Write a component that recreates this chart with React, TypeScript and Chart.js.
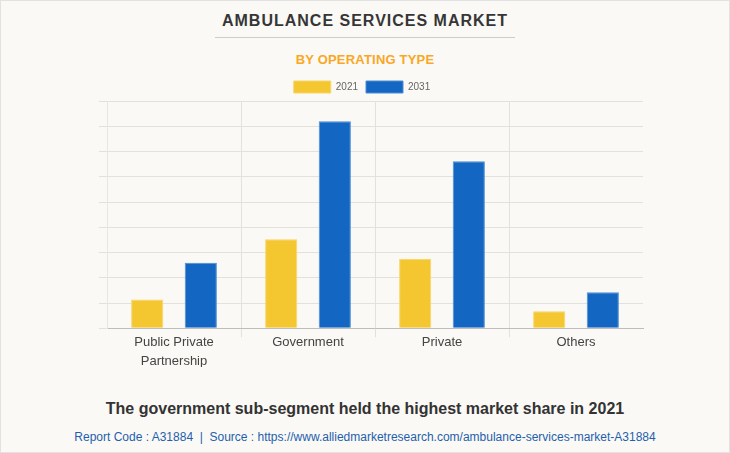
import React, { useEffect, useRef } from "react";
import { Chart, registerables } from "chart.js";

Chart.register(...registerables);

const categories: (string | string[])[] = [["Public Private", "Partnership"], "Government", "Private", "Others"];
const seriesNames = ["2021", "2031"];
const values2021 = [1.14, 3.53, 2.75, 0.68];
const values2031 = [2.6, 8.2, 6.61, 1.43];
const yMax = 9;

const FONT = "'Liberation Sans', Arial, sans-serif";

const legendTighten = {
  id: "legendTighten",
  beforeInit(chart: any) {
    const lg = chart.legend;
    if (!lg) return;
    const orig = lg.fit;
    lg.fit = function (this: any) {
      orig.call(this);
      this.height -= 2;
    };
  },
  afterLayout(chart: any) {
    const lg = chart.legend;
    if (!lg) return;
    lg.left -= 9;
    lg.right -= 9;
  },
};

export default function App() {
  const ref = useRef<HTMLCanvasElement | null>(null);

  useEffect(() => {
    const canvas = ref.current;
    if (!canvas) return;
    const chart = new Chart(canvas, {
      type: "bar",
      data: {
        labels: categories,
        datasets: [
          {
            label: seriesNames[0],
            data: values2021,
            backgroundColor: "#F4C62F",
            borderColor: "#F7D566",
            borderWidth: 1,
            categoryPercentage: 0.8,
            barPercentage: 0.6,
          },
          {
            label: seriesNames[1],
            data: values2031,
            backgroundColor: "#1366C1",
            borderColor: "#4C8ED4",
            borderWidth: 1,
            categoryPercentage: 0.8,
            barPercentage: 0.6,
          },
        ],
      },
      plugins: [legendTighten],
      options: {
        responsive: false,
        animation: false,
        devicePixelRatio: 1,
        layout: { padding: { left: 99, right: 87, top: 0, bottom: 0 } },
        plugins: {
          title: { display: false },
          tooltip: { enabled: false },
          legend: {
            display: true,
            position: "top",
            labels: {
              boxWidth: 37,
              boxHeight: 12,
              padding: 8,
              color: "#666",
              font: { family: FONT, size: 10 },
            },
          },
        },
        scales: {
          x: {
            grid: {
              display: true,
              offset: true,
              color: (ctx: any) =>
                ctx.type !== "tick" || ctx.index === 0 ? "rgba(0,0,0,0)" : "#E3E1DC",
              tickLength: 9,
            },
            border: { display: true, color: "#BDBDBD", width: 1 },
            ticks: {
              color: "#444",
              padding: -4,
              font: { family: FONT, size: 13, lineHeight: 1.45 },
              maxRotation: 0,
              autoSkip: false,
            },
          },
          y: {
            min: 0,
            max: yMax,
            grid: { color: "#E3E1DC", tickLength: 8 },
            border: { display: true, color: "#E8E6E1" },
            ticks: { display: false, stepSize: 1 },
          },
        },
      },
    });
    return () => chart.destroy();
  }, []);

  return (
    <div
      style={{
        position: "absolute",
        left: 0,
        top: 0,
        width: 730,
        height: 453,
        boxSizing: "border-box",
        border: "1px solid #E2E2E2",
        background: "#FAF9F5",
        fontFamily: FONT,
        overflow: "hidden",
      }}
    >
      <div
        style={{
          position: "absolute",
          left: 0,
          top: 10,
          width: 728,
          textAlign: "center",
          fontSize: 16,
          fontWeight: "bold",
          letterSpacing: 1,
          color: "#363636",
          lineHeight: "20px",
        }}
      >
        AMBULANCE SERVICES MARKET
      </div>
      <div style={{ position: "absolute", left: 214, top: 36, width: 300, height: 1, background: "#CCCCCC" }} />
      <div
        style={{
          position: "absolute",
          left: 0,
          top: 50,
          width: 728,
          textAlign: "center",
          fontSize: 13,
          fontWeight: "bold",
          letterSpacing: 0.2,
          color: "#F9A825",
          lineHeight: "18px",
        }}
      >
        BY OPERATING TYPE
      </div>
      <canvas ref={ref} width={730} height={294} style={{ position: "absolute", left: -1, top: 72, width: 730, height: 294 }} />
      <div
        style={{
          position: "absolute",
          left: 0,
          top: 398,
          width: 728,
          textAlign: "center",
          fontSize: 16,
          fontWeight: "bold",
          color: "#333",
          lineHeight: "20px",
        }}
      >
        The government sub-segment held the highest market share in 2021
      </div>
      <div
        style={{
          position: "absolute",
          left: 0,
          top: 428,
          width: 728,
          textAlign: "center",
          fontSize: 12,
          color: "#1F5FAD",
          lineHeight: "16px",
        }}
      >
        Report Code : A31884&nbsp;&nbsp;|&nbsp;&nbsp;Source : https://www.alliedmarketresearch.com/ambulance-services-market-A31884
      </div>
    </div>
  );
}
